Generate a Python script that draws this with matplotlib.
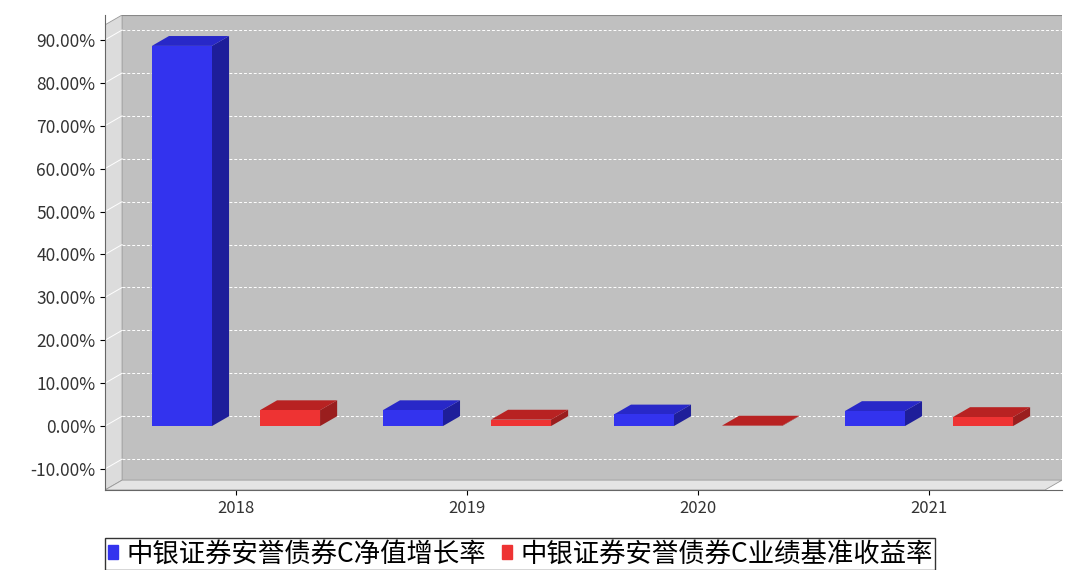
import matplotlib.pyplot as plt
from matplotlib.patches import Polygon, Rectangle

plt.rcParams['font.family'] = ['Noto Sans CJK SC', 'DejaVu Sans']

years = ["2018", "2019", "2020", "2021"]
nav_growth = [88.6, 3.7, 2.7, 3.5]
benchmark = [3.7, 1.5, 0.1, 2.1]
series_names = ["中银证券安誉债券C净值增长率", "中银证券安誉债券C业绩基准收益率"]
yticks = [-10, 0, 10, 20, 30, 40, 50, 60, 70, 80, 90]

XMIN, XMAX = -0.567, 3.576
YMIN, YMAX = -14.9, 95.8
DX, DY = 0.074, 2.3
W = 0.26
OFF = 0.234

fig = plt.figure(figsize=(10.67, 5.7), dpi=100)
ax = fig.add_axes([105 / 1067, 80 / 570, 957 / 1067, 475 / 570])
ax.set_xlim(XMIN, XMAX)
ax.set_ylim(YMIN, YMAX)

# walls
ax.add_patch(Rectangle((XMIN + DX, YMIN + DY), XMAX - XMIN - DX, YMAX - YMIN - DY,
                       facecolor="#c0c0c0", edgecolor="none", zorder=0))
ax.add_patch(Polygon([(XMIN, YMIN), (XMIN + DX, YMIN + DY), (XMIN + DX, YMAX), (XMIN, YMAX - DY)],
                     facecolor="#dcdcdc", edgecolor="#999999", lw=0.6, zorder=0))
ax.add_patch(Polygon([(XMIN, YMIN), (XMAX - DX, YMIN), (XMAX, YMIN + DY), (XMIN + DX, YMIN + DY)],
                     facecolor="#e4e4e4", edgecolor="#999999", lw=0.6, zorder=0))
ax.plot([XMIN + DX, XMAX, XMAX], [YMAX, YMAX, YMIN + DY], color="#888888", lw=0.8, zorder=0)
for t in yticks:
    ax.plot([XMIN + DX, XMAX], [t + DY, t + DY], color="white", lw=0.7, ls=(0, (3, 2)), zorder=1)
    ax.plot([XMIN, XMIN + DX], [t, t + DY], color="white", lw=0.7, zorder=1)


def bar3d(xc, h, front, top, side):
    x0, x1 = xc - W / 2, xc + W / 2
    lo, hi = min(0, h), max(0, h)
    ax.add_patch(Polygon([(x1, lo), (x1 + DX, lo + DY), (x1 + DX, hi + DY), (x1, hi)],
                         facecolor=side, edgecolor="none", zorder=3))
    ax.add_patch(Polygon([(x0, hi), (x1, hi), (x1 + DX, hi + DY), (x0 + DX, hi + DY)],
                         facecolor=top, edgecolor="none", zorder=3))
    ax.add_patch(Rectangle((x0, lo), W, hi - lo, facecolor=front, edgecolor="none", zorder=4))


for i in range(len(years)):
    bar3d(i - OFF, nav_growth[i], "#3333ee", "#2828c8", "#1e1e9a")
    bar3d(i + OFF, benchmark[i], "#ee3333", "#b82222", "#9a1e1e")

ax.set_xticks(range(len(years)))
ax.set_xticklabels(years, fontsize=12, color="#333333")
ax.set_yticks(yticks)
ax.set_yticklabels([f"{t:.2f}%" for t in yticks], fontsize=12.5, color="#333333")
for s in ["top", "right"]:
    ax.spines[s].set_visible(False)
ax.spines["left"].set_color("#666666")
ax.spines["bottom"].set_color("#666666")

handles = [Rectangle((0, 0), 1, 1, color="#3333ee"), Rectangle((0, 0), 1, 1, color="#ee3333")]
fig.legend(handles, series_names, loc="lower left", bbox_to_anchor=(105 / 1067, 0.0), ncol=2,
           fontsize=19, frameon=True, fancybox=False, edgecolor="black", handlelength=0.4,
           handleheight=0.4, handletextpad=0.3, columnspacing=0.6, borderpad=0.1, borderaxespad=0)

fig.savefig("out.png", dpi=100, facecolor="white")
